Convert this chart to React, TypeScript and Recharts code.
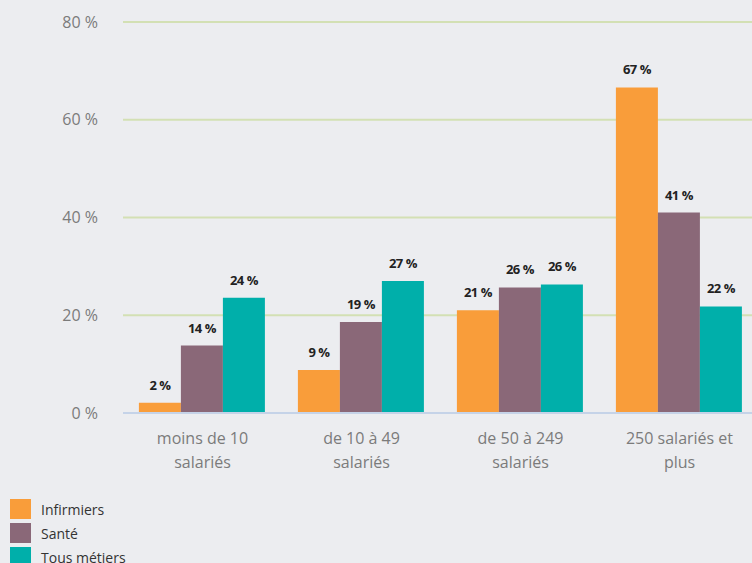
import React from 'react';
import { BarChart, Bar, XAxis, YAxis, CartesianGrid, LabelList, Legend } from 'recharts';

const categories = ['moins de 10 salariés', 'de 10 à 49 salariés', 'de 50 à 249 salariés', '250 salariés et plus'];
const categoryLines = [
  ['moins de 10', 'salariés'],
  ['de 10 à 49', 'salariés'],
  ['de 50 à 249', 'salariés'],
  ['250 salariés et', 'plus'],
];
const infirmiers = [2.1, 8.8, 21.0, 66.6];
const sante = [13.8, 18.6, 25.7, 41.0];
const tousMetiers = [23.6, 27.0, 26.3, 21.8];
const yTicks = [0, 20, 40, 60, 80];

const seriesNames = ['Infirmiers', 'Santé', 'Tous métiers'];
const colors = ['#f99d3a', '#8a6878', '#00afaa'];

const data = categories.map((c, i) => ({
  name: c,
  infirmiers: infirmiers[i],
  sante: sante[i],
  tous: tousMetiers[i],
}));

const FONT = "'Open Sans', 'Noto Sans', sans-serif";

const XTick = (props: any) => {
  const { x, y, index } = props;
  const lines = categoryLines[index] || [];
  return (
    <g transform={`translate(${x},${y})`}>
      {lines.map((l: string, i: number) => (
        <text key={i} x={0} y={23 + i * 24} textAnchor="middle" fill="#7b7b7b" fontSize={16} fontFamily={FONT}>
          {l}
        </text>
      ))}
    </g>
  );
};

const LegendContent = () => (
  <div style={{ height: 72, paddingTop: 6, boxSizing: 'border-box', fontFamily: FONT, overflow: 'visible' }}>
    {seriesNames.map((n, i) => (
      <div key={n} style={{ display: 'flex', alignItems: 'center', height: 24 }}>
        <div style={{ width: 21, height: 20, background: colors[i], marginRight: 10 }} />
        <span style={{ fontSize: 14, color: '#333' }}>{n}</span>
      </div>
    ))}
  </div>
);

const fmt = (v: any) => `${Math.round(Number(v))} %`;

const labelStyle = { fontSize: 13, fontWeight: 700, fill: '#222', fontFamily: FONT, letterSpacing: -0.5 } as any;

export default function App() {
  return (
    <div style={{ position: 'absolute', left: 0, top: 0, width: 752, height: 563, background: '#ecedf0', overflow: 'hidden' }}>
      <BarChart width={759} height={563} data={data} margin={{ top: 22, right: 0, bottom: 0, left: 0 }} barCategoryGap="10%" barGap={0}>
        <CartesianGrid vertical={false} stroke="#d3e0b4" strokeWidth={2} />
        <XAxis dataKey="name" height={78} axisLine={{ stroke: '#c5d3e8', strokeWidth: 2 }} tickLine={false} tick={<XTick />} interval={0} />
        <YAxis domain={[0, 80]} ticks={yTicks} width={123} axisLine={false} tickLine={false} tickSize={0} tickMargin={25}
          tickFormatter={(v: number) => `${v} %`} tick={{ fill: '#7b7b7b', fontSize: 16, fontFamily: FONT }} />
        <Legend verticalAlign="bottom" align="left" content={<LegendContent />} wrapperStyle={{ left: 10, width: 200 }} />
        <Bar dataKey="infirmiers" name={seriesNames[0]} fill={colors[0]} isAnimationActive={false}>
          <LabelList dataKey="infirmiers" position="top" offset={13} formatter={fmt} style={labelStyle} />
        </Bar>
        <Bar dataKey="sante" name={seriesNames[1]} fill={colors[1]} isAnimationActive={false}>
          <LabelList dataKey="sante" position="top" offset={13} formatter={fmt} style={labelStyle} />
        </Bar>
        <Bar dataKey="tous" name={seriesNames[2]} fill={colors[2]} isAnimationActive={false}>
          <LabelList dataKey="tous" position="top" offset={13} formatter={fmt} style={labelStyle} />
        </Bar>
      </BarChart>
    </div>
  );
}
